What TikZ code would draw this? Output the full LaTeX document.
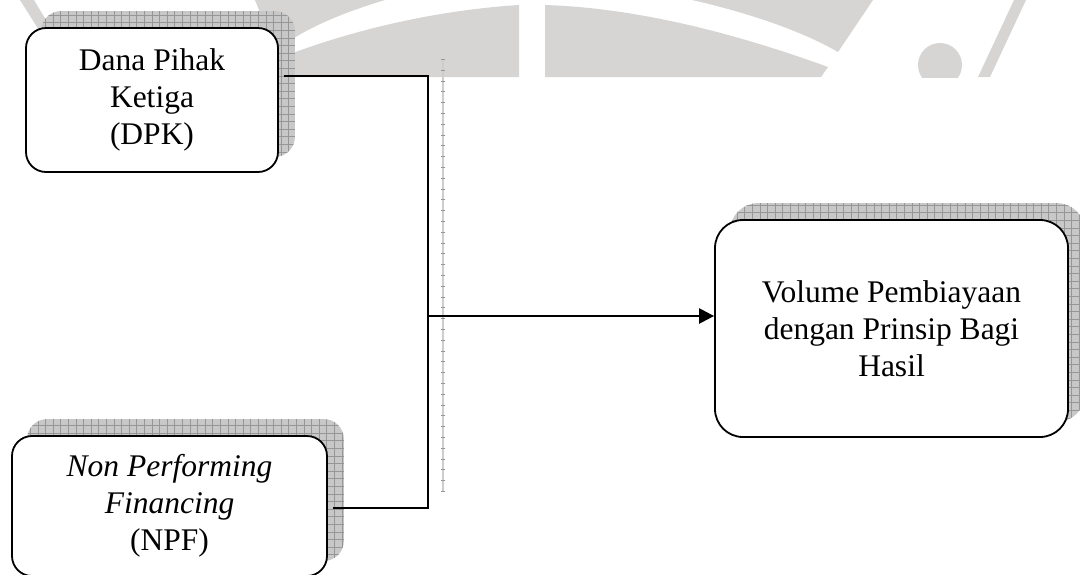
\documentclass[tikz,border=0pt]{standalone}
\usepackage{fontspec}
\setmainfont{Liberation Serif}
\usetikzlibrary{arrows.meta,backgrounds}

\begin{document}
\begin{tikzpicture}[x=0.5pt,y=-0.5pt,
  box/.style={draw=black,line width=0.9pt,fill=white,rounded corners=10pt,align=center,inner sep=0pt,font=\fontsize{15.75}{18.5}\selectfont},
  shadowbox/.style={fill=shadowColor,rounded corners=10pt,path picture={
    \path[draw=gridColor,line width=0.35pt,step=3.8pt] (path picture bounding box.south west) grid (path picture bounding box.north east);}},
  link/.style={draw=black,line width=1.2pt},
  guide/.style={draw=guideColor,line width=0.8pt}]
\definecolor{markColor}{RGB}{214,213,212}
\definecolor{shadowColor}{RGB}{200,200,200}
\definecolor{gridColor}{RGB}{150,150,150}
\definecolor{guideColor}{RGB}{205,205,205}
\path[use as bounding box] (0,0) rectangle (1080,574);

\node[box,minimum width=126pt,minimum height=72pt] (dpk) at (152,100) {Dana Pihak\\Ketiga\\(DPK)};
\node[box,minimum width=157.5pt,minimum height=70pt] (npf) at (169.5,506) {\textit{Non Performing}\\\textit{Financing}\\(NPF)};
\node[box,rounded corners=14pt,minimum width=176.5pt,minimum height=108.5pt] (vol) at (891.5,328.5) {Volume Pembiayaan\\dengan Prinsip Bagi\\Hasil};

\coordinate (guideTop) at (443,59);
\coordinate (guideBot) at (443,492);
\path[guide] (guideTop) -- (guideBot);
\path[draw=gridColor,line width=1.6pt,dash pattern=on 0.4pt off 5pt] (guideTop) -- (guideBot);

\coordinate (join) at (428,316);
\path[link] ([xshift=2.5pt,yshift=12pt]dpk.east) -| (join);
\path[link] ([xshift=2.5pt,yshift=-1pt]npf.east) -| (join);
\path[link,-{Triangle[length=7.5pt,width=7.5pt]}] (join) -- (join -| vol.west);

\begin{scope}[on background layer]
\path[fill=white] (0,0) rectangle (1080,574);
\begin{scope}
\path[clip] (0,0) rectangle (1080,77);
\path[fill=markColor] (20,0) -- (34,0) -- (52,30) -- (44,38) -- cycle;
\path[fill=markColor] (255,0) -- (385,0) .. controls (345,12) and (315,25) .. (294,38) -- (270,38) -- cycle;
\path[fill=markColor] (290,77) -- (290,54) .. controls (360,28) and (440,10) .. (519,5) -- (519,77) -- cycle;
\path[fill=markColor] (545,77) -- (545,5) .. controls (640,8) and (740,35) .. (828,67) -- (821,77) -- cycle;
\path[fill=markColor] (692,0) .. controls (745,12) and (800,30) .. (838,52) -- (873,0) -- cycle;
\path[fill=markColor] (940,65) circle (22);
\path[fill=markColor] (1014,0) -- (1026,0) -- (990,77) -- (978,77) -- cycle;
\end{scope}
\path[shadowbox] ([xshift=8pt,yshift=8pt]dpk.south west) rectangle ([xshift=8pt,yshift=8pt]dpk.north east);
\path[shadowbox] ([xshift=8pt,yshift=8pt]npf.south west) rectangle ([xshift=8pt,yshift=8pt]npf.north east);
\path[shadowbox,rounded corners=14pt] ([xshift=8pt,yshift=8pt]vol.south west) rectangle ([xshift=8pt,yshift=8pt]vol.north east);
\end{scope}
\end{tikzpicture}
\end{document}
